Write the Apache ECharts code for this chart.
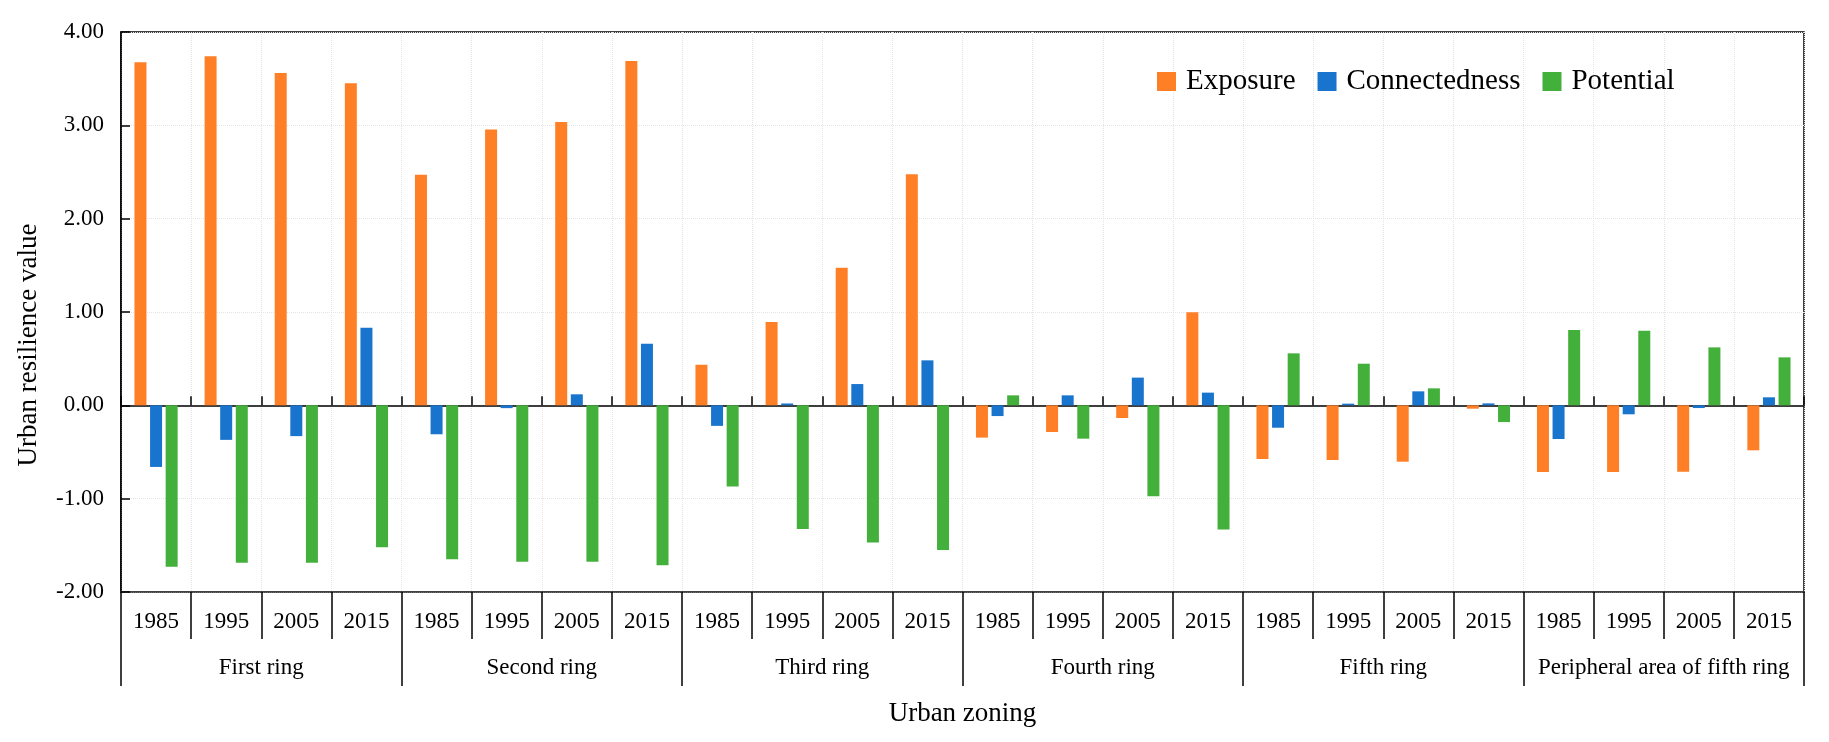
<!DOCTYPE html>
<html>
<head>
<meta charset="utf-8">
<script src="https://cdn.jsdelivr.net/npm/echarts@6/dist/echarts.min.js"></script>
<style>
html,body{margin:0;padding:0;background:#fff;}
#chart{width:1829px;height:742px;}
</style>
</head>
<body>
<div id="chart"></div>
<script>
const zones = ['First ring','Second ring','Third ring','Fourth ring','Fifth ring','Peripheral area of fifth ring'];
const years = ['1985','1995','2005','2015'];
const categories = [];
zones.forEach(function(){ years.forEach(function(y){ categories.push(y); }); });

const exposure = [3.675, 3.74, 3.56, 3.45,  2.47, 2.955, 3.036, 3.69,  0.435, 0.893, 1.475, 2.475,  -0.346, -0.286, -0.136, 0.996,  -0.575, -0.586, -0.604, -0.036,  -0.714, -0.714, -0.711, -0.482];
const connectedness = [-0.66, -0.37, -0.33, 0.83,  -0.31, -0.03, 0.118, 0.66,  -0.22, 0.02, 0.228, 0.482,  -0.115, 0.107, 0.297, 0.136,  -0.24, 0.018, 0.15, 0.021,  -0.361, -0.096, -0.029, 0.086];
const potential = [-1.73, -1.686, -1.686, -1.52,  -1.65, -1.675, -1.675, -1.714,  -0.87, -1.325, -1.47, -1.55,  0.107, -0.357, -0.975, -1.33,  0.557, 0.446, 0.182, -0.179,  0.807, 0.80, 0.621, 0.514];

const yTicks = {min: -2, max: 4, interval: 1};
const FONT = 'Liberation Serif, Times New Roman, serif';

const chart = echarts.init(document.getElementById('chart'));
chart.setOption({
  animation: false,
  backgroundColor: '#fff',
  textStyle: {fontFamily: FONT, color: '#000'},
  grid: {left: 121, right: 25, top: 32, bottom: 150, show: true, borderColor: '#000', borderWidth: 1.5, containLabel: false},
  legend: {
    left: 1152, top: 62, icon: 'rect', itemWidth: 19, itemHeight: 19, itemGap: 22,
    textStyle: {fontFamily: FONT, fontSize: 29, color: '#000', padding: [0,0,0,5]},
    data: ['Exposure','Connectedness','Potential']
  },
  xAxis: [
    {
      type: 'category', data: categories, position: 'bottom', boundaryGap: true,
      axisLine: {onZero: false, lineStyle: {color: '#444', width: 1.5}},
      axisTick: {show: true, inside: false, length: 47, interval: 0, lineStyle: {color: '#000', width: 1.5}},
      axisLabel: {interval: 0, margin: 18, fontSize: 23, fontFamily: FONT, color: '#000'},
      splitLine: {show: false}
    },
    {
      type: 'category', data: zones, position: 'bottom', boundaryGap: true,
      axisLine: {onZero: false, show: false},
      axisTick: {show: true, inside: false, length: 94, interval: 0, lineStyle: {color: '#000', width: 1.5}},
      axisLabel: {interval: 0, margin: 64, fontSize: 23, fontFamily: FONT, color: '#000'},
      name: 'Urban zoning', nameLocation: 'middle', nameGap: 108,
      nameTextStyle: {fontSize: 27, fontFamily: FONT, color: '#000'},
      splitLine: {show: false}
    },
    {
      type: 'category', data: categories, position: 'bottom', boundaryGap: true,
      axisLine: {onZero: true, lineStyle: {color: '#000', width: 1.5}},
      axisTick: {show: true, inside: true, length: 9, interval: 0, lineStyle: {color: '#000', width: 1.5}},
      axisLabel: {show: false},
      splitLine: {show: true, interval: 0, lineStyle: {color: '#e4e4e4', type: 'dotted', width: 1}}
    }
  ],
  yAxis: {
    type: 'value', min: yTicks.min, max: yTicks.max, interval: yTicks.interval,
    axisLine: {show: true, lineStyle: {color: '#000', width: 1.5}},
    axisTick: {show: true, inside: true, length: 9, lineStyle: {color: '#000', width: 1.5}},
    axisLabel: {margin: 17, fontSize: 23, fontFamily: FONT, color: '#000', formatter: function(v){ return v.toFixed(2); }},
    splitLine: {show: true, lineStyle: {color: '#e4e4e4', type: 'dotted', width: 1}},
    name: 'Urban resilience value', nameLocation: 'middle', nameGap: 79, nameRotate: 90,
    nameTextStyle: {fontSize: 27, fontFamily: FONT, color: '#000', padding: [0, 66, 0, 0]}
  },
  series: [
    {name: 'Exposure', type: 'bar', xAxisIndex: 0, data: exposure, barWidth: 12, barGap: '30%', itemStyle: {color: '#FF7F27'}},
    {name: 'Connectedness', type: 'bar', xAxisIndex: 0, data: connectedness, barWidth: 12, barGap: '30%', itemStyle: {color: '#1874CD'}},
    {name: 'Potential', type: 'bar', xAxisIndex: 0, data: potential, barWidth: 12, barGap: '30%', itemStyle: {color: '#44B03C'}}
  ]
});
</script>
</body>
</html>
